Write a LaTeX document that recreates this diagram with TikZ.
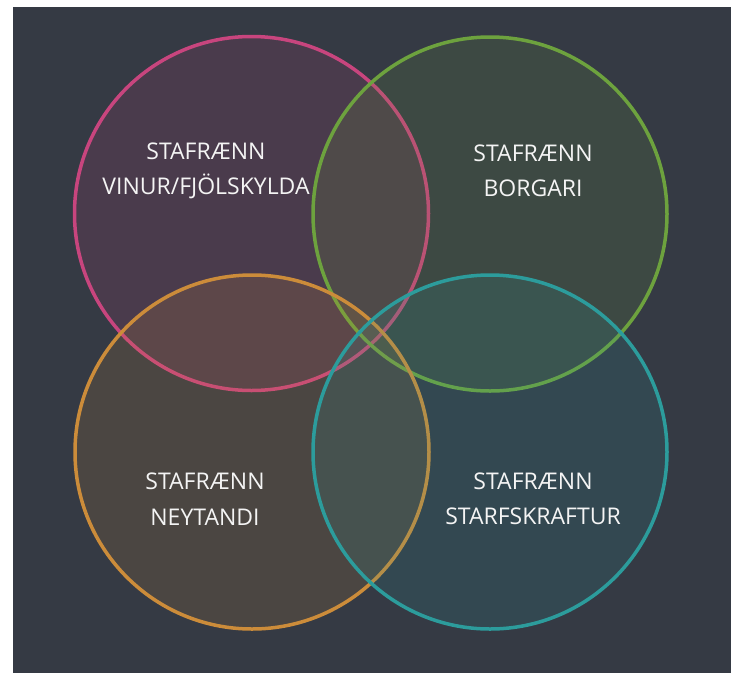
\documentclass[tikz,border=0pt]{standalone}
\usepackage{fontspec}
\setmainfont{Open Sans}
\definecolor{bgc}{HTML}{353A44}
\definecolor{cpink}{HTML}{C8457E}
\definecolor{cgreen}{HTML}{6DA23E}
\definecolor{corange}{HTML}{CC8C3A}
\definecolor{cteal}{HTML}{2C9C9C}
\definecolor{txt}{HTML}{F4F4F4}
\tikzset{
  venn/.style={circle, minimum size=354pt, inner sep=0pt, line width=3.5pt, fill opacity=0.15, text opacity=1},
  lbl/.style={text=txt, align=center, font=\fontsize{23}{35.5}\selectfont, inner sep=0pt}
}
\begin{document}
\begin{tikzpicture}[x=1pt,y=-1pt]
\useasboundingbox (0,0) rectangle (731,673);
\fill[white] (0,0) rectangle (731,673);
\fill[bgc] (13,7) rectangle (731,673);
\node[venn, draw=cpink, fill=cpink] (pink) at (251.5,213.5) {};
\node[venn, draw=cgreen, fill=cgreen] (green) at (490,214) {};
\node[venn, draw=corange, fill=corange] (orange) at (252,452) {};
\node[venn, draw=cteal, fill=cteal] (teal) at (490,452) {};
\node[lbl] (tpink) at (206,171) {STAFRÆNN\\VINUR/FJÖLSKYLDA};
\node[lbl] (tgreen) at (533,171) {STAFRÆNN\\BORGARI};
\node[lbl] (torange) at (205,499) {STAFRÆNN\\NEYTANDI};
\node[lbl] (tteal) at (533,499) {STAFRÆNN\\STARFSKRAFTUR};
\end{tikzpicture}
\end{document}
